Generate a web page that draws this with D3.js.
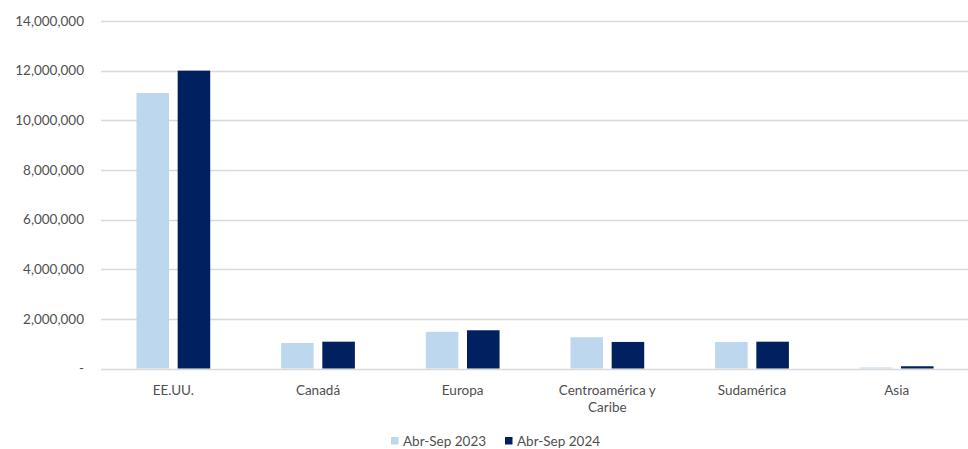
<!DOCTYPE html>
<html>
<head>
<meta charset="utf-8">
<script src="https://cdn.jsdelivr.net/npm/d3@7/dist/d3.min.js"></script>
<style>
  html, body { margin: 0; padding: 0; background: #ffffff; }
  svg { display: block; }
  text { font-family: "Lato", "Liberation Sans", sans-serif; fill: #505050; }
</style>
</head>
<body>
<svg id="chart" width="968" height="449"></svg>
<script>
const categories = ["EE.UU.", "Canadá", "Europa", "Centroamérica y\nCaribe", "Sudamérica", "Asia"];
const seriesNames = ["Abr-Sep 2023", "Abr-Sep 2024"];
const values2023 = [11100000, 1030000, 1480000, 1260000, 1070000, 40000];
const values2024 = [12000000, 1080000, 1540000, 1070000, 1080000, 90000];
const yTicks = [0, 2000000, 4000000, 6000000, 8000000, 10000000, 12000000, 14000000];
const colors = ["#BDD7EE", "#002060"];

const svg = d3.select("#chart");
const margin = { left: 101, right: 0, top: 21, bottom: 81 };
const W = 968, H = 449;

const x = d3.scaleBand().domain(categories).range([margin.left, W + 1]).paddingInner(0).paddingOuter(0);
const xInner = d3.scaleBand().domain(seriesNames).range([0, x.bandwidth()]).paddingInner(0.21).paddingOuter(0.86);
const y = d3.scaleLinear().domain([0, 14000000]).range([368.5, 21]);

// gridlines
svg.append("g").selectAll("line").data(yTicks).join("line")
  .attr("x1", margin.left).attr("x2", W)
  .attr("y1", d => Math.round(y(d)) + 0.5).attr("y2", d => Math.round(y(d)) + 0.5)
  .attr("stroke", "#d9d9d9").attr("stroke-width", 1.3);

// y axis labels
const fmt = d3.format(",");
svg.append("g").selectAll("text").data(yTicks).join("text")
  .attr("x", 84).attr("y", d => y(d)).attr("dy", "0.35em")
  .attr("text-anchor", "end").attr("font-size", "13.5px")
  .text(d => d === 0 ? "-" : fmt(d));

// bars
const series = [values2023, values2024];
series.forEach((vals, si) => {
  svg.append("g").selectAll("rect").data(categories).join("rect")
    .attr("x", (c) => x(c) + xInner(seriesNames[si]))
    .attr("width", xInner.bandwidth())
    .attr("y", (c, i) => y(vals[i]))
    .attr("height", (c, i) => y(0) - y(vals[i]))
    .attr("fill", colors[si]);
});

// x labels
const xl = svg.append("g").selectAll("text").data(categories).join("text")
  .attr("x", c => x(c) + x.bandwidth() / 2)
  .attr("y", 395)
  .attr("text-anchor", "middle").attr("font-size", "13.5px");
xl.each(function(c) {
  const lines = c.split("\n");
  d3.select(this).selectAll("tspan").data(lines).join("tspan")
    .attr("x", x(c) + x.bandwidth() / 2)
    .attr("dy", (d, i) => i === 0 ? 0 : 17)
    .text(d => d);
});

// legend
const legendX = [391, 505];
const lg = svg.append("g");
seriesNames.forEach((s, i) => {
  lg.append("rect").attr("x", legendX[i]).attr("y", 437).attr("width", 7.5).attr("height", 7.5).attr("fill", colors[i]);
  lg.append("text").attr("x", legendX[i] + 12).attr("y", 441).attr("dy", "0.35em")
    .attr("font-size", "13.5px").text(s);
});
</script>
</body>
</html>
